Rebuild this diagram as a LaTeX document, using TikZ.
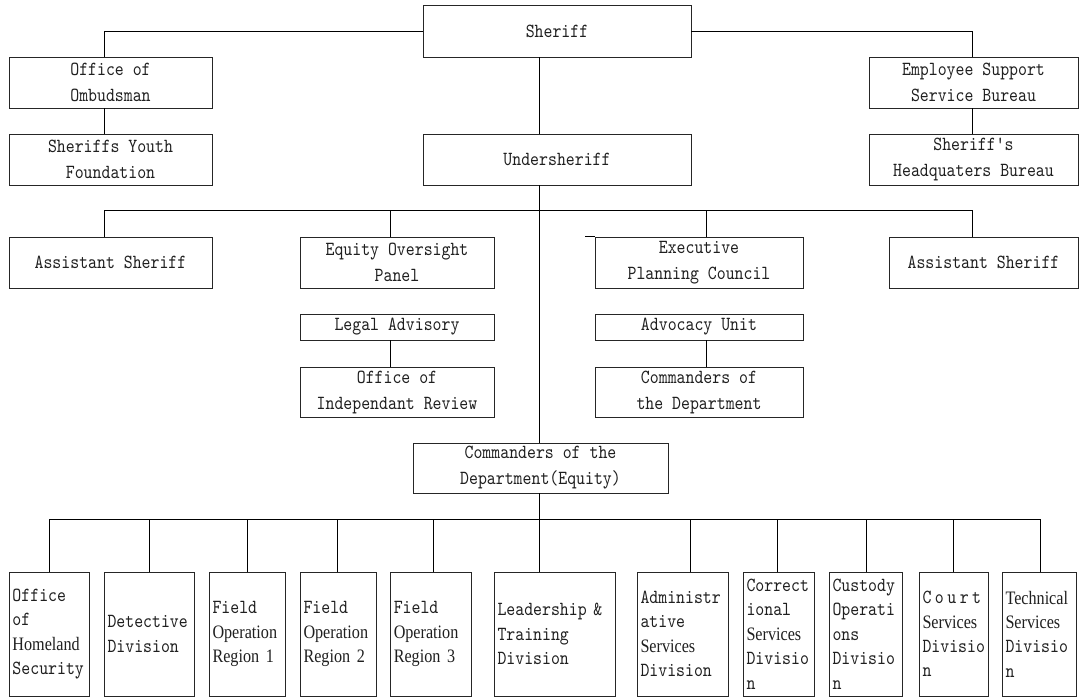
\documentclass[tikz,border=0pt]{standalone}
\usepackage{fontspec}
\newfontfamily\unitfont[FakeStretch=0.85]{lmmono10-regular.otf}
\newfontfamily\propserif[FakeStretch=0.85]{Liberation Serif}
\usetikzlibrary{calc}
\newcommand{\cs}{\hspace{3.5pt}}
\newcommand{\pw}[1]{{\propserif\fontsize{19}{24.4}\selectfont #1}}
\begin{document}
\begin{tikzpicture}[x=1pt,y=-1pt,
  unit/.style={draw=black!85, line width=0.8pt, inner sep=0pt, align=center,
    text=black!88, font=\unitfont\fontsize{20}{26}\selectfont},
  divbox/.style={draw=black!85, line width=0.8pt, inner xsep=3.5pt, inner ysep=0pt,
    align=left, minimum height=124pt, text=black!88,
    font=\unitfont\fontsize{20}{24.4}\selectfont},
  link/.style={draw=black, line width=0.8pt}]
\useasboundingbox[fill=white] (0,0) rectangle (1079,697);

% command level
\node[unit, minimum width=268pt, minimum height=52pt] (sheriff) at (557,31) {Sheriff};
\node[unit, minimum width=268pt, minimum height=51pt] (under) at (557,159.5) {Undersheriff};
\node[unit, minimum width=203pt, minimum height=51pt] (ombud) at (110.5,82.5) {Office of\\Ombudsman};
\node[unit, minimum width=203pt, minimum height=51pt] (youth) at (110.5,159.5) {Sheriffs Youth\\Foundation};
\node[unit, minimum width=209pt, minimum height=51pt] (empl) at (973.5,82.5) {Employee Support\\Service Bureau};
\node[unit, minimum width=209pt, minimum height=51pt] (hq) at (973.5,159.5) {Sheriff's\\Headquaters Bureau};

% second level
\node[unit, minimum width=203pt, minimum height=51pt] (asl) at (110.5,262.5) {Assistant Sheriff};
\node[unit, minimum width=194pt, minimum height=51pt] (eop) at (397,262.5) {Equity Oversight\\Panel};
\node[unit, minimum width=208pt, minimum height=51pt] (epc) at (699,262.5) {Executive\\Planning Council};
\node[unit, minimum width=189pt, minimum height=51pt] (asr) at (983.5,262.5) {Assistant Sheriff};
\node[unit, minimum width=194pt, minimum height=26pt] (legal) at (397,327) {Legal Advisory};
\node[unit, minimum width=194pt, minimum height=50pt] (oir) at (397,392) {Office of\\Independant Review};
\node[unit, minimum width=208pt, minimum height=26pt] (advo) at (699,327) {Advocacy Unit};
\node[unit, minimum width=208pt, minimum height=50pt] (cotd) at (699,392) {Commanders of\\the Department};
\node[unit, minimum width=255pt, minimum height=50pt] (cde) at (540.5,468) {Commanders of the\\Department(Equity)};

% divisions
\node[divbox, text width=73pt] (b1) at (49,634) {Office\\of\\\pw{Homeland}\\Security};
\node[divbox, text width=83pt] (b2) at (149,634) {Detective\\Division};
\node[divbox, text width=69pt] (b3) at (247,634) {Field\\\pw{Operation}\\\pw{Region 1}};
\node[divbox, text width=69pt] (b4) at (338,634) {Field\\\pw{Operation}\\\pw{Region 2}};
\node[divbox, text width=74.5pt] (b5) at (431,634) {Field\\\pw{Operation}\\\pw{Region 3}};
\node[divbox, text width=114pt] (b6) at (554.5,634) {Leadership \&\\Training\\Division};
\node[divbox, text width=84pt] (b7) at (682.5,634) {Administr\\ative\\\pw{Services}\\Division};
\node[divbox, text width=64pt] (b8) at (778.5,634) {Correct\\ional\\\pw{Services}\\Divisio\\n};
\node[divbox, text width=66pt] (b9) at (865.5,634) {Custody\\Operati\\ons\\Divisio\\n};
\node[divbox, text width=62pt] (b10) at (953.5,634) {C\cs o\cs u\cs r\cs t\\\pw{Services}\\Divisio\\n};
\node[divbox, text width=67pt] (b11) at (1039,634) {\pw{Technical}\\\pw{Services}\\Divisio\\n};

% top links
\draw[link] (sheriff.west) -| ([xshift=-6.5pt]ombud.north);
\draw[link] ([xshift=-6.5pt]ombud.south) -- ([xshift=-6.5pt]youth.north);
\draw[link] (sheriff.east) -| ([xshift=-1.5pt]empl.north);
\draw[link] ([xshift=-1.5pt]empl.south) -- ([xshift=-1.5pt]hq.north);
\draw[link] ([xshift=-18pt]sheriff.south) -- ([xshift=-18pt]under.north);
\draw[link] ([xshift=-18pt]under.south) -- ([xshift=-1.5pt]cde.north);

% second-level bus
\draw[link] ([xshift=-6.5pt]asl.north) -- ++(0,-26) -| ([xshift=-11.5pt]asr.north);
\draw[link] ([xshift=-7pt]eop.north) -- ++(0,-26);
\draw[link] ([xshift=7pt]epc.north) -- ++(0,-26);
\draw[link] (epc.north west) -- ++(-10,0);
\draw[link] ([xshift=-7pt]legal.south) -- ([xshift=-7pt]oir.north);
\draw[link] ([xshift=7pt]advo.south) -- ([xshift=7pt]cotd.north);

% division bus
\draw[link] ([xshift=-1.5pt]cde.south) -- ([xshift=-15.5pt]b6.north);
\draw[link] ([xshift=0.5pt]b1.north) -- ++(0,-52) -| ([xshift=1.5pt]b11.north);
\draw[link] (b2.north) -- ++(0,-52);
\draw[link] (b3.north) -- ++(0,-52);
\draw[link] ([xshift=-0.5pt]b4.north) -- ++(0,-52);
\draw[link] ([xshift=2.5pt]b5.north) -- ++(0,-52);
\draw[link] ([xshift=7.5pt]b7.north) -- ++(0,-52);
\draw[link] ([xshift=-1.5pt]b8.north) -- ++(0,-52);
\draw[link] ([xshift=1pt]b9.north) -- ++(0,-52);
\draw[link] ([xshift=-0.5pt]b10.north) -- ++(0,-52);
\end{tikzpicture}
\end{document}
